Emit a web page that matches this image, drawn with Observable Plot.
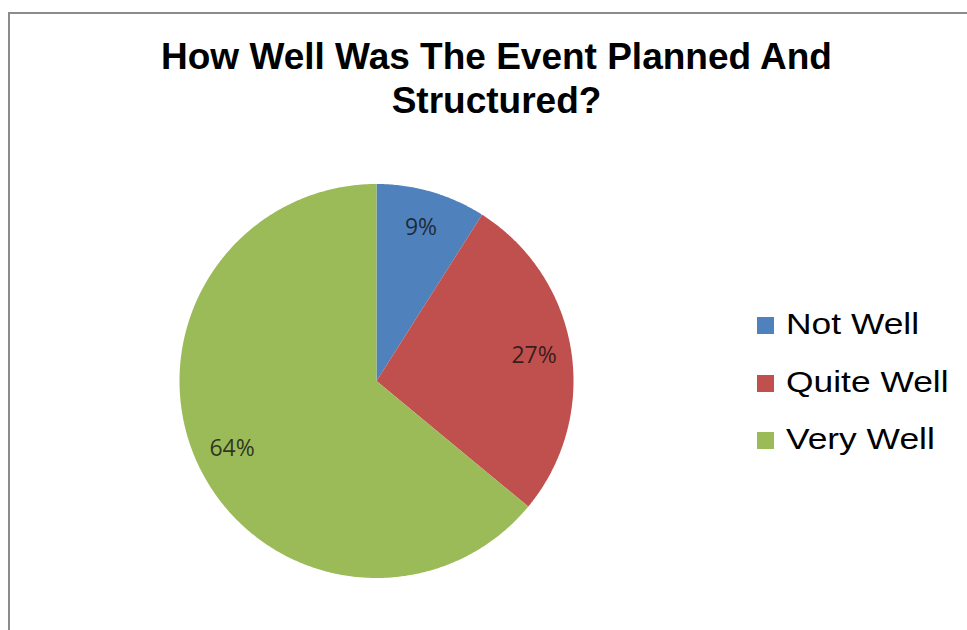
<!DOCTYPE html>
<html>
<head>
<meta charset="utf-8">
<script src="https://cdn.jsdelivr.net/npm/d3@7"></script>
<script src="https://cdn.jsdelivr.net/npm/@observablehq/plot@0.6"></script>
<style>
  html, body { margin: 0; padding: 0; background: #fff; }
  #wrap { position: relative; width: 967px; height: 630px; overflow: hidden; background: #fff; }
  #frame { position: absolute; left: 8px; top: 12px; width: 1100px; height: 800px; border: 2px solid #8c8c8c; box-sizing: border-box; }
  #title { position: absolute; left: 0; top: 35px; width: 993px; text-align: center;
           font-family: "Liberation Sans", Arial, sans-serif; font-weight: bold; font-size: 37px; line-height: 44px; color: #000; }
  #chart { position: absolute; left: 0; top: 0; }
  #legend { position: absolute; left: 757px; top: 304px; font-family: "Liberation Sans", Arial, sans-serif; font-size: 29px; color: #000; }
  .item { position: relative; height: 57.5px; }
  .sw { position: absolute; left: 0; top: 13px; width: 17px; height: 17px; }
  .lab { position: absolute; left: 29px; top: 4px; white-space: nowrap; transform: scaleX(1.22); transform-origin: left center; }
</style>
</head>
<body>
<div id="wrap">
  <div id="frame"></div>
  <div id="title">How Well Was The Event Planned And<br>Structured?</div>
  <div id="chart"></div>
  <div id="legend"></div>
</div>
<script>
const categories = ["Not Well", "Quite Well", "Very Well"];
const values = [9, 27, 64];
const colors = ["#4F81BD", "#C0504D", "#9BBB59"];
const labels = ["9%", "27%", "64%"];

const W = 967, H = 630;
const cx = 376, cy = 380.5, R = 197; // pixel layout of the pie

const pie = d3.pie().sort(null).value(d => d.value).startAngle(0).endAngle(2 * Math.PI);
const arcs = pie(categories.map((c, i) => ({name: c, value: values[i], label: labels[i]})));

// Build slice polygons in unit-radius data space (y up)
const polys = [];
for (const a of arcs) {
  polys.push({name: a.data.name, x: 0, y: 0});
  const n = Math.max(2, Math.ceil((a.endAngle - a.startAngle) / (Math.PI / 360)));
  for (let k = 0; k <= n; k++) {
    const t = a.startAngle + (a.endAngle - a.startAngle) * k / n;
    polys.push({name: a.data.name, x: Math.sin(t), y: Math.cos(t)});
  }
}
const labelPts = arcs.map(a => {
  const m = (a.startAngle + a.endAngle) / 2;
  return {name: a.data.name, label: a.data.label, x: 0.81 * Math.sin(m), y: 0.81 * Math.cos(m)};
});

const chart = Plot.plot({
  width: W, height: H,
  margin: 0,
  x: {domain: [-cx / R, (W - cx) / R], axis: null},
  y: {domain: [-(H - cy) / R, cy / R], axis: null},
  color: {domain: categories, range: colors},
  style: {background: "transparent"},
  marks: [
    Plot.line(polys, {x: "x", y: "y", z: "name", fill: "name", stroke: null, curve: "linear-closed"}),
    Plot.text(labelPts, {x: "x", y: "y", text: "label", fontSize: 23, fill: "#111", fillOpacity: 0.8,
      fontFamily: "'Open Sans', 'DejaVu Sans', sans-serif"})
  ]
});
document.getElementById("chart").appendChild(chart);

const leg = document.getElementById("legend");
categories.forEach((c, i) => {
  const it = document.createElement("div");
  it.className = "item";
  it.innerHTML = `<div class="sw" style="background:${colors[i]}"></div><div class="lab">${c}</div>`;
  leg.appendChild(it);
});
</script>
</body>
</html>
